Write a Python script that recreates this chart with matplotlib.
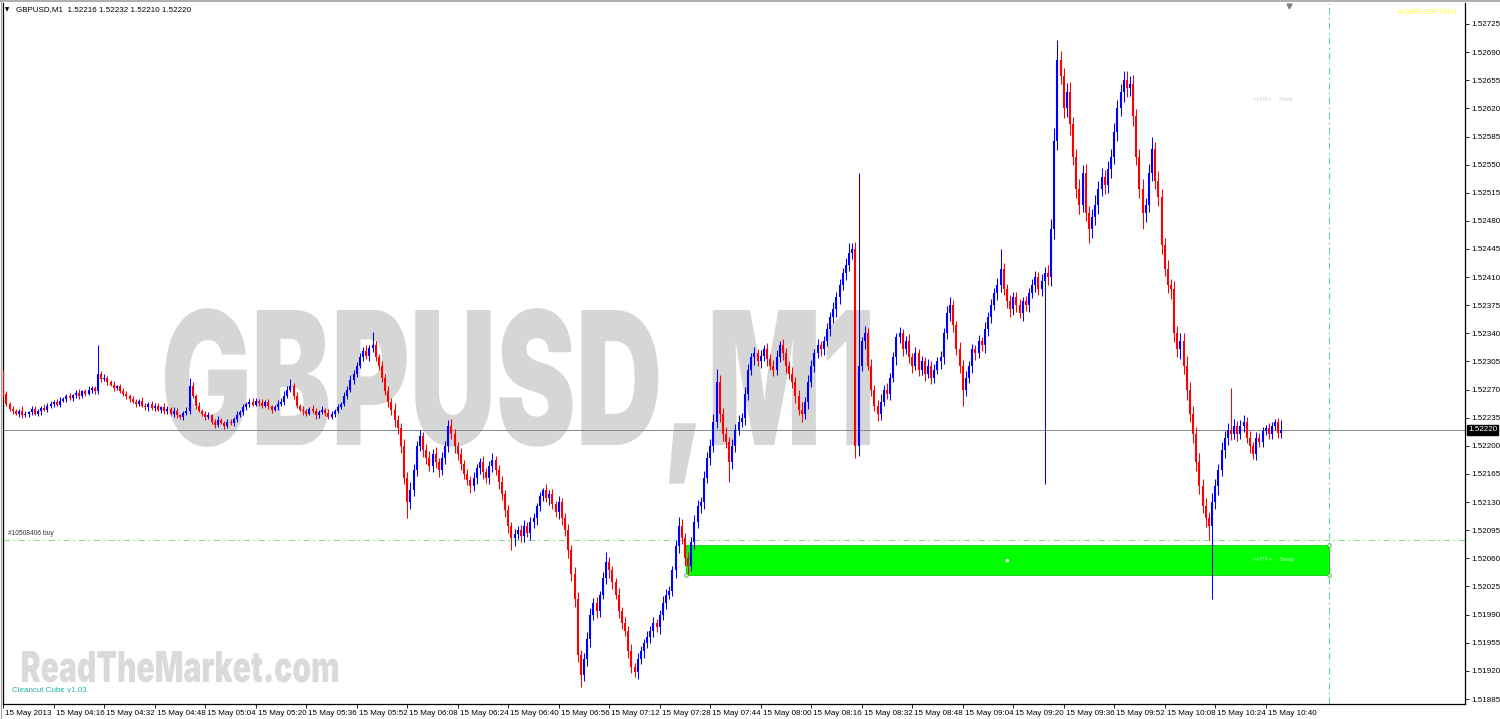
import matplotlib
matplotlib.use('Agg')
import matplotlib.pyplot as plt
from matplotlib.textpath import TextPath
from matplotlib.patches import PathPatch, Rectangle
from matplotlib.transforms import Affine2D, ScaledTranslation, blended_transform_factory
from matplotlib.font_manager import FontProperties, fontManager
from matplotlib.lines import Line2D

# ---------------- data (prices in points above 1.52000) ----------------
BASE = 1.52
PT = 0.00001

first_open = 290
closes = [
    265, 252, 246, 243, 240, 244, 238, 240, 242, 246,
    240, 243, 247, 245, 250, 252, 255, 251, 256, 258,
    262, 259, 263, 266, 262, 268, 265, 270, 272, 268,
    290, 283, 285, 279, 276, 272, 274, 268, 265, 262,
    258, 255, 252, 256, 250, 248, 252, 247, 250, 245,
    248, 243, 246, 240, 244, 238, 236, 241, 243, 275,
    262, 250, 244, 240, 236, 238, 230, 226, 232, 229,
    225, 230, 228, 234, 238, 242, 248, 252, 255, 251,
    256, 253, 250, 254, 249, 245, 248, 252, 255, 262,
    270, 275, 262, 250, 245, 243, 240, 246, 244, 238,
    242, 245, 241, 236, 240, 244, 248, 252, 262, 270,
    282, 290, 300, 310, 318, 312, 322, 325, 310, 300,
    285, 268, 255, 245, 232, 222, 200, 160, 130, 145,
    170, 200, 212, 195, 185, 175, 190, 180, 170, 185,
    200, 225, 215, 200, 190, 178, 165, 158, 150, 160,
    172, 180, 168, 160, 175, 183, 170, 155, 140, 120,
    100, 85, 90, 95, 88, 100, 92, 105, 110, 125,
    138, 145, 135, 140, 128, 118, 130, 110, 95, 70,
    40, 10, -60, -85, -65, -40, -10, 5, -5, 15,
    35, 55, 45, 30, 15, -5, -20, -30, -55, -75,
    -82, -65, -55, -45, -38, -30, -20, -25, -10, 5,
    15, 20, 45, 75, 100, 85, 60, 50, 80, 105,
    125, 130, 160, 185, 200, 230, 280, 240, 215, 205,
    180, 200, 220, 230, 235, 265, 295, 310, 315, 305,
    312, 320, 308, 300, 295, 310, 325, 315, 300, 290,
    280, 262, 245, 240, 255, 280, 300, 315, 325, 320,
    330, 345, 360, 370, 385, 400, 415, 425, 440, 445,
    200, 300, 330, 340, 300, 270, 250, 240, 255, 270,
    265, 285, 310, 335, 340, 320, 330, 310, 300, 315,
    295, 305, 290, 300, 285, 295, 305, 310, 340, 365,
    375, 350, 320, 300, 270, 285, 300, 320, 315, 330,
    325, 345, 360, 375, 390, 400, 420, 395, 380, 370,
    385, 375, 365, 380, 375, 390, 400, 410, 395, 405,
    415, 410, 470, 580, 680, 660, 620, 640, 600, 560,
    520, 500, 540, 490, 470, 485, 500, 520, 535, 525,
    545, 560, 590, 620, 640, 655, 645, 650, 610, 560,
    520, 490, 500, 540, 570, 530, 510, 450, 420, 400,
    395, 340, 320, 330, 300, 270, 240, 215, 180, 150,
    125, 110, 100, 130, 150, 170, 195, 210, 220, 215,
    225, 215, 225, 230, 210, 200, 190, 210, 205, 218,
    222, 215, 225, 230, 216, 220,
]

upper_wick = [
    5, 3, 2, 4, 3, 2, 5, 3, 2, 4, 3, 3, 2, 5, 3, 4, 2, 3, 5, 3,
    3, 4, 2, 3, 5, 2, 3, 4, 3, 2, 6, 3, 4, 2, 3, 5, 2, 3, 4, 3,
    2, 4, 3, 2, 5, 3, 2, 4, 3, 3, 2, 5, 3, 2, 4, 3, 2, 3, 5, 4,
    4, 3, 5, 2, 3, 4, 2, 3, 5, 3, 2, 4, 3, 2, 5, 3, 4, 2, 3, 4,
    3, 2, 5, 3, 4, 2, 3, 5, 4, 6, 5, 4, 3, 5, 2, 4, 3, 2, 5, 3,
    3, 4, 2, 5, 3, 2, 4, 3, 5, 4, 6, 5, 4, 6, 5, 7, 4, 6, 5, 4,
    5, 4, 6, 5, 8, 6, 7, 9, 8, 10, 7, 6, 8, 5, 7, 9, 6, 8, 5, 7,
    6, 5, 8, 6, 5, 7, 4, 6, 5, 8, 6, 5, 7, 4, 6, 8, 5, 6, 7, 5,
    6, 5, 7, 5, 6, 8, 5, 7, 6, 4, 5, 6, 7, 5, 6, 4, 7, 5, 6, 8,
    7, 9, 8, 6, 7, 9, 8, 6, 7, 5, 8, 6, 7, 5, 6, 8, 5, 7, 6, 8,
    5, 7, 6, 5, 8, 6, 7, 5, 6, 8, 7, 5, 6, 8, 7, 9, 6, 8, 7, 9,
    8, 6, 9, 7, 8, 10, 9, 8, 7, 9, 6, 8, 7, 9, 6, 8, 7, 5, 8, 6,
    7, 5, 8, 6, 7, 9, 6, 8, 7, 5, 8, 6, 7, 9, 6, 8, 7, 5, 8, 6,
    7, 8, 6, 9, 7, 8, 6, 9, 8, 7, 9, 8, 6, 9, 7, 8, 6, 7, 9, 6,
    8, 6, 7, 5, 8, 6, 7, 9, 5, 8, 6, 7, 5, 8, 6, 7, 5, 8, 7, 9,
    8, 7, 6, 9, 7, 8, 6, 7, 5, 8, 6, 9, 7, 8, 6, 9, 8, 7, 6, 8,
    7, 6, 8, 5, 7, 6, 8, 7, 6, 9, 8, 10, 12, 15, 14, 12, 10, 11, 13, 9,
    10, 12, 9, 11, 8, 10, 12, 9, 11, 8, 10, 9, 12, 11, 10, 9, 12, 10, 11, 9,
    10, 12, 9, 11, 10, 8, 12, 10, 9, 11, 8, 10, 9, 11, 10, 12, 9, 10, 8, 11,
    9, 10, 8, 11, 9, 7, 10, 8, 9, 7, 8, 6, 7, 9, 6, 8, 5, 7, 6, 5,
    4, 6, 5, 4, 5, 12,
]

lower_wick = [
    4, 2, 3, 3, 2, 4, 3, 2, 4, 3, 2, 3, 4, 2, 3, 3, 4, 2, 3, 2,
    4, 2, 3, 3, 4, 2, 3, 2, 4, 3, 3, 4, 2, 3, 2, 4, 3, 2, 3, 4,
    3, 2, 4, 3, 2, 3, 4, 2, 3, 2, 4, 3, 3, 2, 4, 3, 2, 4, 3, 3,
    3, 4, 2, 3, 4, 2, 3, 4, 3, 2, 4, 3, 2, 3, 4, 2, 3, 3, 4, 2,
    2, 4, 3, 2, 3, 4, 2, 3, 3, 4, 2, 3, 4, 3, 2, 4, 3, 2, 3, 4,
    3, 2, 4, 3, 2, 4, 3, 2, 3, 4, 3, 5, 4, 3, 5, 4, 6, 5, 4, 5,
    6, 5, 7, 6, 8, 7, 9, 8, 10, 9, 7, 8, 6, 9, 7, 6, 8, 7, 9, 6,
    7, 8, 6, 9, 7, 8, 6, 7, 9, 6, 8, 7, 9, 6, 7, 8, 6, 9, 7, 8,
    8, 7, 9, 6, 8, 7, 6, 9, 7, 8, 6, 7, 5, 8, 6, 7, 9, 8, 7, 9,
    8, 10, 9, 11, 8, 9, 10, 7, 9, 8, 6, 7, 9, 8, 6, 9, 8, 7, 9, 8,
    6, 8, 7, 9, 6, 7, 8, 6, 9, 7, 8, 6, 7, 9, 8, 7, 9, 8, 6, 8,
    7, 9, 8, 6, 9, 7, 8, 10, 9, 8, 7, 9, 8, 6, 7, 9, 8, 7, 9, 6,
    8, 7, 9, 6, 8, 7, 6, 8, 9, 7, 8, 9, 7, 8, 6, 9, 7, 8, 6, 8,
    7, 6, 8, 7, 9, 8, 6, 9, 7, 8, 9, 8, 7, 9, 6, 8, 7, 9, 8, 6,
    7, 8, 6, 9, 7, 8, 6, 7, 9, 6, 8, 7, 9, 6, 8, 7, 6, 9, 8, 7,
    9, 8, 7, 9, 6, 8, 7, 9, 8, 6, 7, 9, 8, 7, 6, 8, 9, 7, 8, 9,
    7, 8, 6, 9, 7, 8, 6, 9, 7, 8, 9, 10, 11, 13, 12, 10, 12, 11, 13, 10,
    11, 12, 9, 10, 12, 11, 10, 12, 9, 11, 10, 12, 9, 11, 10, 12, 11, 9, 12, 10,
    11, 10, 12, 9, 11, 10, 12, 11, 9, 10, 12, 11, 10, 12, 11, 13, 10, 12, 11, 10,
    9, 11, 10, 12, 9, 11, 8, 10, 9, 8, 7, 9, 6, 8, 7, 9, 6, 8, 7, 6,
    5, 7, 6, 5, 6, 6,
]

spike_high = {30: 325, 59: 285, 91: 283, 117: 342, 141: 232, 171: 148, 191: 68,
              214: 112, 226: 296, 268: 452, 271: 540, 300: 385, 316: 445,
              334: 705, 355: 667, 364: 585, 389: 272, 405: 232}
spike_low = {128: 110, 161: 70, 183: -100, 200: -88, 217: 40, 230: 155,
             253: 230, 270: 185, 271: 188, 304: 250, 330: 152, 344: 452, 361: 470,
             382: 83, 383: 10, 405: 210}

tick_minutes = [0, 16, 32, 48, 64, 80, 96, 112, 128, 144, 160, 176, 192, 208,
                224, 240, 256, 272, 288, 304, 320, 336, 352, 368, 384, 400]
time_labels = ["15 May 2013", "15 May 04:16", "15 May 04:32", "15 May 04:48",
               "15 May 05:04", "15 May 05:20", "15 May 05:36", "15 May 05:52",
               "15 May 06:08", "15 May 06:24", "15 May 06:40", "15 May 06:56",
               "15 May 07:12", "15 May 07:28", "15 May 07:44", "15 May 08:00",
               "15 May 08:16", "15 May 08:32", "15 May 08:48", "15 May 09:04",
               "15 May 09:20", "15 May 09:36", "15 May 09:52", "15 May 10:08",
               "15 May 10:24", "15 May 10:40"]
price_ticks = [1.51885, 1.51920, 1.51955, 1.51990, 1.52025, 1.52060, 1.52095,
               1.52130, 1.52165, 1.52200, 1.52235, 1.52270, 1.52305, 1.52340,
               1.52375, 1.52410, 1.52445, 1.52480, 1.52515, 1.52550, 1.52585,
               1.52620, 1.52655, 1.52690, 1.52725]

last_price = 1.52220
order_price = 1.52083
zone_top, zone_bottom = 1.52077, 1.52039
zone_start, zone_end = 216.3, 420.0
future_line = 420.0
header = "GBPUSD,M1  1.52216 1.52232 1.52210 1.52220"

# ---------------- figure ----------------
W, H = 1500, 719
names = {f.name for f in fontManager.ttflist}
small_font = "Liberation Sans Narrow" if "Liberation Sans Narrow" in names else "Liberation Sans"
plt.rcParams['font.family'] = [small_font, 'DejaVu Sans']

# heavy font for the watermarks
heavy = None
for f in fontManager.ttflist:
    if f.name in ("Roboto", "Inter", "Lato", "Open Sans") and isinstance(f.weight, int) and f.weight >= 800 \
            and f.style == 'normal':
        heavy = FontProperties(fname=f.fname)
        break
if heavy is None:
    heavy = FontProperties(family='DejaVu Sans', weight='bold')

fig = plt.figure(figsize=(W / 100, H / 100), dpi=100)
fig.patch.set_facecolor('white')
x_left_px, x_right_px, y_top_px, y_bot_px = 2.7, 1465.0, 3.0, 704.0
ax = fig.add_axes([x_left_px / W, (H - y_bot_px) / H,
                   (x_right_px - x_left_px) / W, (y_bot_px - y_top_px) / H])
ax.set_facecolor('white')

px0, pxstep = 3.3, 3.156
ax.set_xlim((x_left_px - px0) / pxstep, (x_right_px - px0) / pxstep)
pscale = 0.0084 / 675.0
ax.set_ylim(1.52725 - (y_bot_px - 24) * pscale, 1.52725 + (24 - y_top_px) * pscale)

# watermarks
def fit_text(s, x0, x1, y_top, y_base, color, fp, z):
    tp = TextPath((0, 0), s, size=100, prop=fp)
    bb = tp.get_extents()
    cap = TextPath((0, 0), 'H', size=100, prop=fp).get_extents().ymax
    sx = (x1 - x0) / bb.width
    sy = (y_base - y_top) / cap
    tr = Affine2D().translate(-bb.x0, 0).scale(sx, sy).translate(x0, H - y_base)
    patch = PathPatch(tp, facecolor=color, edgecolor='none', zorder=z)
    patch.set_transform(tr)
    ax.add_patch(patch)

fit_text("GBPUSD,M1", 165, 870, 310, 445, '#d6d6d6', heavy, 0.5)
fit_text("ReadTheMarket.com", 22, 338, 651, 682, '#dadada', heavy, 0.5)

# zone
ax.add_patch(Rectangle((zone_start, zone_bottom), zone_end - zone_start, zone_top - zone_bottom,
                       facecolor='#00ff00', edgecolor='#22cc22', linewidth=0.7, zorder=2))
ax.plot([zone_start, zone_end, zone_end], [zone_bottom, zone_bottom, zone_top], linestyle='none',
        marker='o', markersize=2.5, markerfacecolor='white', markeredgecolor='#22bb22',
        markeredgewidth=0.6, zorder=2.2)
ax.plot([(zone_start + zone_end) / 2], [(zone_top + zone_bottom) / 2], marker='o', markersize=1.5,
        color='white', zorder=2.2)
ax.text(396, (zone_top + zone_bottom) / 2, "<HTF>    Swap", fontsize=4.4, color='#b8f5b8',
        va='center', ha='left', zorder=2.3)
ax.text(396, 1.52725 - (100 - 24) * pscale, "<HTF>    Peak", fontsize=4.4, color='#cfcfcf',
        va='center', ha='left', zorder=2.3)

# lines
ax.axhline(last_price, color='#7d8a96', linewidth=0.7, zorder=1.5)
ax.axhline(order_price, color='#8fdc8f', linewidth=0.8, dashes=(6, 3, 1.5, 3), zorder=1.5)
ax.axvline(future_line, color='#66cdaa', linewidth=0.8, dashes=(6, 3, 1.5, 3), zorder=1.5)
ax.text(1.5, order_price + 4 * PT, "#10508406 buy", fontsize=4.8, color='#333333',
        va='bottom', ha='left', zorder=3)

# candles
n = len(closes)
opens = [first_open] + closes[:-1]
xs_up, xs_dn = [], []
bu_lo, bu_hi, bd_lo, bd_hi = [], [], [], []
wu_lo, wu_hi, wd_lo, wd_hi = [], [], [], []
for i in range(n):
    o, c = opens[i], closes[i]
    hi = spike_high.get(i, max(o, c) + upper_wick[i])
    lo = spike_low.get(i, min(o, c) - lower_wick[i])
    b0, b1 = min(o, c), max(o, c)
    if b1 - b0 < 1:
        b1 = b0 + 1
    if c >= o:
        xs_up.append(i); bu_lo.append(BASE + b0 * PT); bu_hi.append(BASE + b1 * PT)
        wu_lo.append(BASE + lo * PT); wu_hi.append(BASE + hi * PT)
    else:
        xs_dn.append(i); bd_lo.append(BASE + b0 * PT); bd_hi.append(BASE + b1 * PT)
        wd_lo.append(BASE + lo * PT); wd_hi.append(BASE + hi * PT)

ax.vlines(xs_up, wu_lo, wu_hi, color='#0000ff', linewidth=0.75, zorder=3)
ax.vlines(xs_dn, wd_lo, wd_hi, color='#ff0000', linewidth=0.75, zorder=3)
ax.vlines(xs_up, bu_lo, bu_hi, color='#0000ff', linewidth=1.5, zorder=3.1)
ax.vlines(xs_dn, bd_lo, bd_hi, color='#ff0000', linewidth=1.5, zorder=3.1)

# axes styling
for side in ['left', 'right', 'bottom']:
    ax.spines[side].set_color('black')
    ax.spines[side].set_linewidth(0.9)
ax.spines['top'].set_visible(False)

ax.yaxis.tick_right()
ax.set_yticks(price_ticks)
ax.set_yticklabels([f"{p:.5f}" for p in price_ticks])
ax.tick_params(axis='y', length=3, width=0.6, pad=1.5, labelsize=5.8, colors='black',
               direction='out')
ax.set_xticks(tick_minutes)
ax.set_xticklabels(time_labels, ha='left')
ax.tick_params(axis='x', length=3, width=0.6, pad=1.5, labelsize=5.8, colors='black',
               direction='out')
off = ScaledTranslation(2 / 100, 0, fig.dpi_scale_trans)
for lab in ax.get_xticklabels():
    lab.set_transform(lab.get_transform() + off)

# current price box
bt = blended_transform_factory(ax.transAxes, ax.transData)
ax.text(1.0 + 3 / (x_right_px - x_left_px), last_price, f"{last_price:.5f}", transform=bt,
        fontsize=5.8, color='white', va='center', ha='left', clip_on=False,
        bbox=dict(boxstyle='square,pad=0.15', facecolor='black', edgecolor='black'), zorder=5)

# header / labels
fig.text(5 / W, 1 - 10 / H, "\u25bc", fontsize=4, family='DejaVu Sans', va='center', ha='left')
fig.text(16 / W, 1 - 10 / H, header, fontsize=5.8, va='center', ha='left', color='black')
fig.text(1398 / W, 1 - 12 / H, "A-GBPUSDPTRN1", fontsize=5, color='#ffff33', va='center', ha='left')
fig.text(12 / W, 1 - 690 / H, "Cleancut Cube v1.03", fontsize=5.8, color='#20b2aa',
         va='center', ha='left')
ax.plot([(1289 - px0) / pxstep], [1.52725 + (24 - 6) * pscale], marker='v', markersize=3.5,
        color='#808080', clip_on=False, zorder=5)

# window border
fig.add_artist(Line2D([0, 1], [1 - 0.8 / H, 1 - 0.8 / H], color='#a0a0a0', linewidth=1.2))
fig.add_artist(Line2D([0.6 / W, 0.6 / W], [0, 1], color='#a0a0a0', linewidth=0.8))

fig.savefig('out.png', dpi=100, facecolor='white')
